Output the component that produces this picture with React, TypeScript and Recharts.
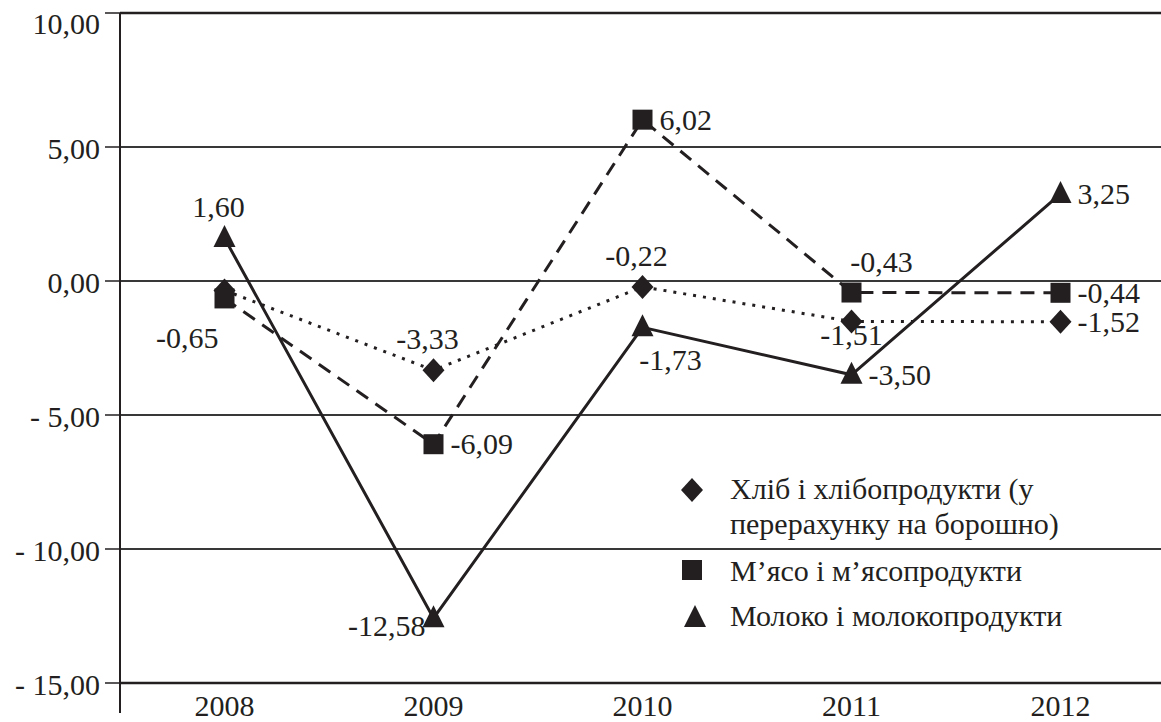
import React from "react";
import {
  LineChart,
  Line,
  XAxis,
  YAxis,
  CartesianGrid,
  ReferenceLine,
  LabelList,
  Legend,
  usePlotArea,
} from "recharts";

const years = ["2008", "2009", "2010", "2011", "2012"];
const bread = [-0.35, -3.33, -0.22, -1.51, -1.52];
const meat = [-0.65, -6.09, 6.02, -0.43, -0.44];
const milk = [1.6, -12.58, -1.73, -3.5, 3.25];
const yTicks = [-15, -10, -5, 0, 5, 10];

const breadName = "Хліб і хлібопродукти (у перерахунку на борошно)";
const meatName = "М’ясо і м’ясопродукти";
const milkName = "Молоко і молокопродукти";

const data = years.map((year, i) => ({
  year,
  bread: bread[i],
  meat: meat[i],
  milk: milk[i],
}));

const INK = "#231f20";
const FONT = "Liberation Serif, DejaVu Serif, serif";

// where each data label sits relative to its point
const place: Record<string, { anchor: "start" | "middle" | "end"; dx: number; dy: number }> = {
  T: { anchor: "middle", dx: -6, dy: -21 },
  TR: { anchor: "middle", dx: 30, dy: -21 },
  R: { anchor: "start", dx: 17, dy: 10 },
  B: { anchor: "middle", dx: 0, dy: 24 },
  BR: { anchor: "middle", dx: 28, dy: 43 },
  BL: { anchor: "end", dx: -6, dy: 50 },
  L: { anchor: "end", dx: -8, dy: 18 },
};
const breadSpots = [null, "T", "T", "B", "R"];
const meatSpots = ["BL", "R", "R", "TR", "R"];
const milkSpots = ["T", "L", "BR", "R", "R"];

const fmt = (v: number) => v.toFixed(2).replace(".", ",");
const fmtTick = (v: number) => (v < 0 ? "- " + fmt(-v) : fmt(v));

function labelFor(spots: (string | null)[]) {
  return (props: any) => {
    const { x, y, value, index } = props;
    const s = spots[index];
    if (!s) return null;
    const p = place[s];
    return (
      <text
        x={x + p.dx}
        y={y + p.dy}
        textAnchor={p.anchor}
        fontSize={30}
        style={{ fontFamily: FONT }}
        fill={INK}
      >
        {fmt(value)}
      </text>
    );
  };
}

const diamond = (cx: number, cy: number) => (
  <polygon points={`${cx},${cy - 12} ${cx + 11},${cy} ${cx},${cy + 12} ${cx - 11},${cy}`} fill={INK} />
);
const square = (cx: number, cy: number) => (
  <rect x={cx - 10} y={cy - 10} width={20} height={20} fill={INK} />
);
const triangle = (cx: number, cy: number) => (
  <polygon points={`${cx},${cy - 13} ${cx + 11},${cy + 9} ${cx - 11},${cy + 9}`} fill={INK} />
);

function YTick(props: any) {
  const { x, y, payload } = props;
  const shift = payload.value === 10 ? 10 : 1;
  return (
    <text x={x} y={y + shift} dy="0.355em" textAnchor="end" fontSize={30} style={{ fontFamily: FONT }} fill={INK}>
      {fmtTick(payload.value)}
    </text>
  );
}

function XTick(props: any) {
  const { x, y, payload } = props;
  return (
    <text x={x} y={y} dy="0.71em" textAnchor="middle" fontSize={30} style={{ fontFamily: FONT }} fill={INK}>
      {payload.value}
    </text>
  );
}

function AxisTail() {
  const area = usePlotArea();
  if (!area) return null;
  return (
    <line
      x1={area.x}
      x2={area.x}
      y1={area.y + area.height}
      y2={area.y + area.height + 30}
      stroke={INK}
      strokeWidth={2}
    />
  );
}

function LegendBox() {
  const text: React.CSSProperties = {
    position: "absolute",
    left: 60,
    fontFamily: FONT,
    fontSize: 30,
    lineHeight: "35px",
    color: INK,
    whiteSpace: "nowrap",
  };
  return (
    <div style={{ position: "relative", width: 480, height: 175 }}>
      <svg width={480} height={175} style={{ position: "absolute", left: 0, top: 0 }}>
        {diamond(22, 25)}
        {square(22, 105)}
        {triangle(25, 153)}
      </svg>
      <div style={{ ...text, top: 6 }}>
        Хліб і хлібопродукти (у
        <br />
        перерахунку на борошно)
      </div>
      <div style={{ ...text, top: 88 }}>{meatName}</div>
      <div style={{ ...text, top: 133 }}>{milkName}</div>
    </div>
  );
}

export default function App() {
  return (
    <div
      style={{
        position: "absolute",
        left: 0,
        top: 0,
        width: 1161,
        height: 722,
        overflow: "hidden",
        background: "#fff",
      }}
    >
      <LineChart width={1165} height={722} data={data} margin={{ top: 13, right: 0, bottom: 0, left: 0 }}>
        <CartesianGrid vertical={false} stroke="#383838" strokeWidth={1.8} />
        <XAxis
          dataKey="year"
          height={39}
          padding={{ left: 104.5, right: 104.5 }}
          axisLine={{ stroke: INK, strokeWidth: 2.5 }}
          tickLine={false}
          tickMargin={6}
          tick={<XTick />}
        />
        <YAxis
          width={120}
          domain={[-15, 10]}
          ticks={yTicks}
          interval={0}
          axisLine={{ stroke: INK, strokeWidth: 2 }}
          tickLine={{ stroke: INK, strokeWidth: 1.5 }}
          tickSize={15}
          tickMargin={5}
          tick={<YTick />}
        />
        <ReferenceLine y={10} stroke={INK} strokeWidth={2.5} />
        <AxisTail />
        <Legend
          layout="vertical"
          align="center"
          verticalAlign="middle"
          wrapperStyle={{ left: 670, top: 465, width: 480, height: 175 }}
          content={() => <LegendBox />}
        />
        <Line
          dataKey="bread"
          name={breadName}
          stroke={INK}
          strokeWidth={3}
          strokeDasharray="3 7"
          dot={(p: any) => <g key={p.index}>{diamond(p.cx, p.cy)}</g>}
          activeDot={false}
          isAnimationActive={false}
        >
          <LabelList dataKey="bread" content={labelFor(breadSpots)} />
        </Line>
        <Line
          dataKey="meat"
          name={meatName}
          stroke={INK}
          strokeWidth={3}
          strokeDasharray="14 9"
          dot={(p: any) => <g key={p.index}>{square(p.cx, p.cy)}</g>}
          activeDot={false}
          isAnimationActive={false}
        >
          <LabelList dataKey="meat" content={labelFor(meatSpots)} />
        </Line>
        <Line
          dataKey="milk"
          name={milkName}
          stroke={INK}
          strokeWidth={3}
          dot={(p: any) => <g key={p.index}>{triangle(p.cx, p.cy)}</g>}
          activeDot={false}
          isAnimationActive={false}
        >
          <LabelList dataKey="milk" content={labelFor(milkSpots)} />
        </Line>
      </LineChart>
    </div>
  );
}
